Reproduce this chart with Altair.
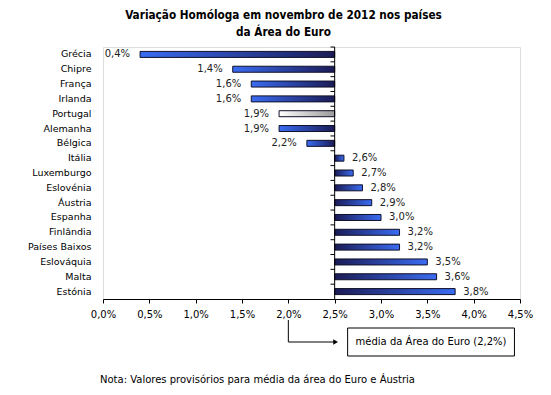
import altair as alt
import pandas as pd

countries = ["Grécia", "Chipre", "França", "Irlanda", "Portugal", "Alemanha", "Bélgica",
             "Itália", "Luxemburgo", "Eslovénia", "Áustria", "Espanha", "Finlândia",
             "Países Baixos", "Eslováquia", "Malta", "Estónia"]
values = [0.4, 1.4, 1.6, 1.6, 1.9, 1.9, 2.2, 2.6, 2.7, 2.8, 2.9, 3.0, 3.2, 3.2, 3.5, 3.6, 3.8]
labels = ["0,4%", "1,4%", "1,6%", "1,6%", "1,9%", "1,9%", "2,2%", "2,6%", "2,7%", "2,8%",
          "2,9%", "3,0%", "3,2%", "3,2%", "3,5%", "3,6%", "3,8%"]
baseline = 2.5
x_ticks = [0, 0.5, 1.0, 1.5, 2.0, 2.5, 3.0, 3.5, 4.0, 4.5]
highlight = "Portugal"

groups = []
for c, v in zip(countries, values):
    if c == highlight:
        groups.append("pt")
    elif v < baseline:
        groups.append("left")
    else:
        groups.append("right")

df = pd.DataFrame({"country": countries, "value": values, "label": labels,
                   "grp": groups, "base": [baseline] * len(countries)})

FONT = "DejaVu Sans"
W, H = 417, 252

x_scale = alt.Scale(domain=[0, 4.5], nice=False, zero=False)
y_enc = alt.Y("country:N", sort=countries, scale=alt.Scale(paddingInner=0, paddingOuter=0),
              axis=alt.Axis(title=None, domain=False, ticks=False, grid=False,
                            labelFont=FONT, labelFontSize=9.5, labelColor="#000",
                            labelPadding=12))
x_enc = alt.X("value:Q", scale=x_scale,
              axis=alt.Axis(title=None, values=x_ticks, grid=False, domainColor="#000",
                            tickColor="#000", tickSize=4, labelFont=FONT, labelFontSize=10,
                            labelColor="#000", labelPadding=6, labelFlush=False,
                            labelExpr="replace(format(datum.value, '.1f'), '.', ',') + '%'"))

base = alt.Chart(df)

def grad(c1, c2):
    return alt.Gradient(gradient="linear", x1=0, x2=1, y1=0, y2=0,
                        stops=[alt.GradientStop(offset=0, color=c1),
                               alt.GradientStop(offset=1, color=c2)])

bar_left = base.transform_filter(alt.datum.grp == "left").mark_bar(
    size=6, color=grad("#3a6cf2", "#1b1b55"), stroke="#10102a", strokeWidth=1
).encode(y=y_enc, x=x_enc, x2="base:Q")

bar_right = base.transform_filter(alt.datum.grp == "right").mark_bar(
    size=6, color=grad("#1b1b55", "#3a6cf2"), stroke="#10102a", strokeWidth=1
).encode(y=y_enc, x=x_enc, x2="base:Q")

bar_pt = base.transform_filter(alt.datum.grp == "pt").mark_bar(
    size=6, color=grad("#ffffff", "#9a9a9a"), stroke="#10102a", strokeWidth=1
).encode(y=y_enc, x=x_enc, x2="base:Q")

txt_left = base.transform_filter(alt.datum.value < baseline).mark_text(
    align="right", baseline="middle", dx=-10, font=FONT, fontSize=10, color="#222"
).encode(y=y_enc, x=x_enc, text="label:N")

txt_right = base.transform_filter(alt.datum.value >= baseline).mark_text(
    align="left", baseline="middle", dx=8, font=FONT, fontSize=10, color="#222"
).encode(y=y_enc, x=x_enc, text="label:N")

one = pd.DataFrame({"a": [0]})

vaxis = alt.Chart(one).mark_rule(color="#000", strokeWidth=1).encode(
    x=alt.datum(baseline), y=alt.value(0), y2=alt.value(H))

vticks = base.mark_rule(color="#000", strokeWidth=1).encode(
    y=alt.Y("country:N", sort=countries, bandPosition=0),
    x=alt.datum(baseline - 0.045), x2=alt.datum(baseline))

# callout
call_v = alt.Chart(one).mark_rule(color="#000").encode(
    x=alt.datum(2.0), y=alt.value(273), y2=alt.value(295))
call_h = alt.Chart(one).mark_rule(color="#000").encode(
    x=alt.datum(2.0), x2=alt.datum(2.5), y=alt.value(295))
call_arrow = alt.Chart(one).mark_point(shape="triangle-right", filled=True, color="#000",
                                       size=30, opacity=1).encode(
    x=alt.datum(2.51), y=alt.value(295))
box = alt.Chart(one).mark_rect(fill="#fff", stroke="#000", strokeWidth=1).encode(
    x=alt.datum(2.64), x2=alt.datum(4.44), y=alt.value(281), y2=alt.value(309))
box_txt = alt.Chart(one).mark_text(font=FONT, fontSize=10, color="#000").encode(
    x=alt.datum(3.54), y=alt.value(295), text=alt.value("média da Área do Euro (2,2%)"))
note = alt.Chart(one).mark_text(font=FONT, fontSize=10, color="#000", align="left").encode(
    x=alt.value(-3), y=alt.value(333),
    text=alt.value("Nota: Valores provisórios para média da área do Euro e Áustria"))

chart = alt.layer(
    bar_left, bar_right, bar_pt, txt_left, txt_right, vaxis, vticks,
    call_v, call_h, call_arrow, box, box_txt, note
).properties(
    width=W, height=H,
    title=alt.TitleParams(
        text=["Variação Homóloga em novembro de 2012 nos países", "da Área do Euro"],
        font="DejaVu Sans Condensed, DejaVu Sans", fontSize=11.7, fontWeight="bold",
        color="#000", anchor="middle", dx=-28, lineHeight=17, offset=8),
    autosize=alt.AutoSizeParams(type="none"),
    padding={"left": 95, "top": 39, "right": 20, "bottom": 92},
).configure_view(stroke=None).configure(background="#fff")

chart.save("out.html", embed_options={"renderer": "svg", "actions": False})
